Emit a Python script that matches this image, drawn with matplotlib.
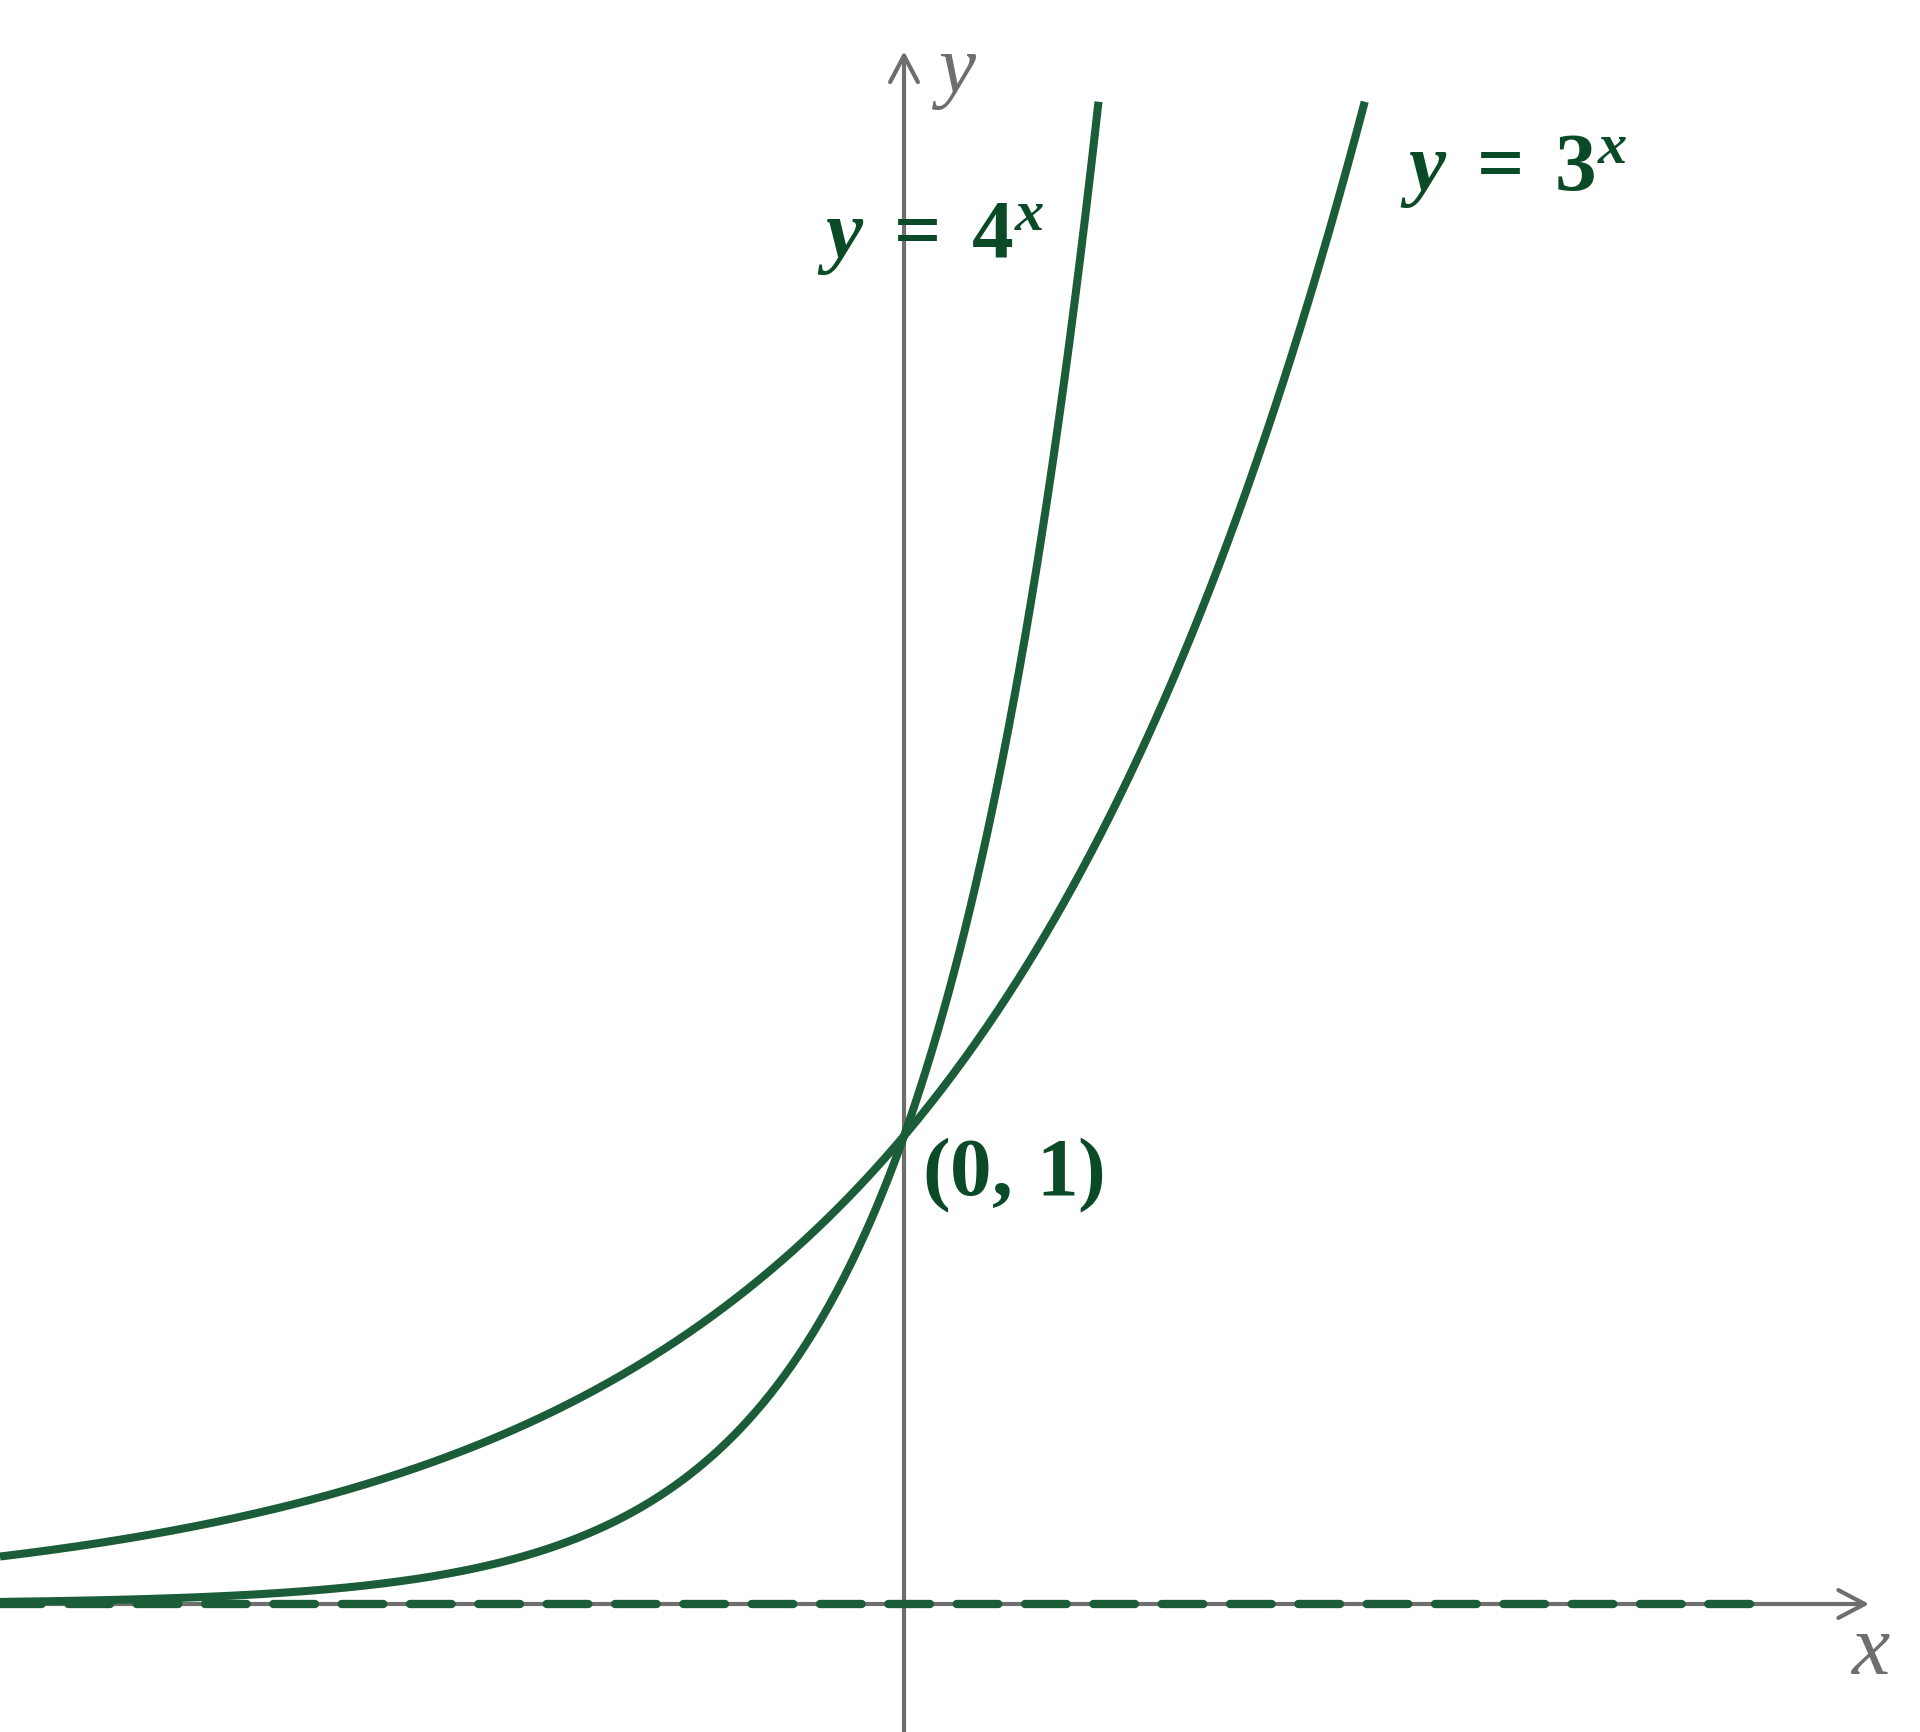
import numpy as np
import matplotlib.pyplot as plt

# mathtext: bold italic letters, bold upright digits (close to the Cambria look)
plt.rcParams['mathtext.fontset'] = 'custom'
plt.rcParams['mathtext.rm'] = 'Liberation Serif:bold'
plt.rcParams['mathtext.it'] = 'Liberation Serif:italic:bold'
plt.rcParams['mathtext.bf'] = 'Liberation Serif:bold'

# curves (bases as they come out in this sketch's x units)
curve_labels = [r"$y\;=\;4^{x}$", r"$y\;=\;3^{x}$"]
curve_bases = [13.5, 3.0]
label_pos = [(-0.20, 2.88), (1.143, 3.024)]

# view window and lines
x_min, x_max = -2.083, 2.341
y_min, y_max = -0.2735, 3.4295
curve_top = 3.21
asymptote_y = 0.0
asymptote_end = 1.99
x_arrow_tip = 2.224
y_arrow_tip = 3.318

point = (0, 1)
point_label = r"$(0,\,1)$"

curve_col = "#1b5c39"
text_col = "#0b4a26"
axis_col = "#6e6e6e"

fig = plt.figure(figsize=(19.2, 17.33), dpi=100)
ax = fig.add_axes([0, 0, 1, 1])
ax.set_xlim(x_min, x_max)
ax.set_ylim(y_min, y_max)
ax.axis('off')

# axes with open arrow heads
arrow = dict(arrowstyle="->,head_length=0.95,head_width=0.5", lw=3,
             color=axis_col, mutation_scale=20, shrinkA=0, shrinkB=0)
ax.annotate("", xy=(x_arrow_tip, 0), xytext=(x_min, 0), arrowprops=arrow, zorder=1)
ax.annotate("", xy=(0, y_arrow_tip), xytext=(0, y_min), arrowprops=arrow, zorder=1)

ax.text(2.226, -0.103, "x", color=axis_col, fontsize=62, family="Liberation Serif",
        style="italic", ha="center", va="center")
ax.text(0.124, 3.275, "y", color=axis_col, fontsize=60, family="Liberation Serif",
        style="italic", ha="center", va="center")

# exponential curves
for base, lab, pos in zip(curve_bases, curve_labels, label_pos):
    x_end = np.log(curve_top) / np.log(base)
    xs = np.linspace(x_min, x_end, 600)
    ax.plot(xs, base ** xs, color=curve_col, lw=5.8, solid_capstyle='butt', zorder=3)
    ax.text(pos[0], pos[1], lab, color=text_col, fontsize=60, ha="left", va="baseline")

# horizontal asymptote
ax.plot([x_min, asymptote_end], [asymptote_y, asymptote_y], color=curve_col, lw=6.0,
        ls=(0, (5, 3.2)), dash_capstyle='round', zorder=4)

ax.text(point[0] + 0.041, point[1] - 0.081, point_label, color=text_col, fontsize=60,
        ha="left", va="center")

fig.savefig("out.png", dpi=100, facecolor="white")
